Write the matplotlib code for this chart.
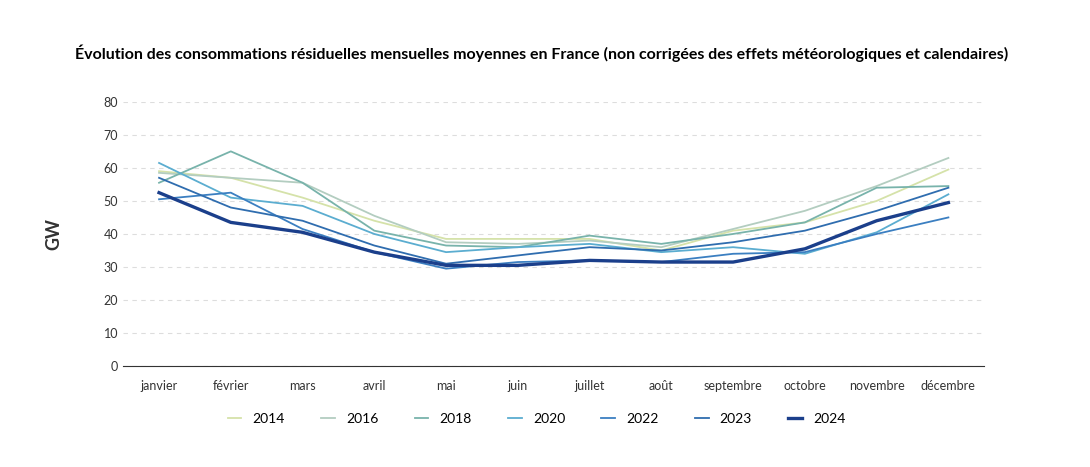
import matplotlib
matplotlib.use("Agg")
import matplotlib.pyplot as plt

plt.rcParams["font.family"] = ["Lato", "DejaVu Sans"]

MONTHS = ["janvier", "février", "mars", "avril", "mai", "juin", "juillet",
          "août", "septembre", "octobre", "novembre", "décembre"]

Y2014 = [59, 57, 51, 44, 38.5, 38.5, 38.5, 35, 41, 43.5, 50, 59.5]
Y2016 = [58.5, 57, 55.5, 45.5, 37.5, 37, 38, 36, 41.5, 47, 54.5, 63]
Y2018 = [55.5, 65, 55.5, 41, 36.5, 36, 39.5, 37, 40, 43.5, 54, 54.5]
Y2020 = [61.5, 51, 48.5, 40, 34.5, 36, 37, 34.5, 36, 34, 40.5, 52]
Y2022 = [50.5, 52.5, 41.5, 34.5, 29.5, 31.5, 32, 31.5, 34, 34.5, 40, 45]
Y2023 = [57, 48, 44, 36.5, 31, 33.5, 36, 35, 37.5, 41, 47, 54]
Y2024 = [52.5, 43.5, 40.5, 34.5, 30.5, 30.5, 32, 31.5, 31.5, 35.5, 44, 49.5]

series = [("2014", Y2014, "#d5e2a9", 1.3),
          ("2016", Y2016, "#b3cdc0", 1.3),
          ("2018", Y2018, "#78b3ab", 1.3),
          ("2020", Y2020, "#5badd0", 1.3),
          ("2022", Y2022, "#3b7fc1", 1.3),
          ("2023", Y2023, "#2f6daf", 1.3),
          ("2024", Y2024, "#1b3f8b", 2.4)]

fig = plt.figure(figsize=(10.9, 4.67), dpi=100)
ax = fig.add_axes([0.113, 0.216, 0.79, 0.566])
x = range(len(MONTHS))
for name, vals, col, lw in series:
    ax.plot(x, vals, color=col, lw=lw, label=name)

ax.set_ylim(0, 80)
ax.set_xlim(-0.5, 11.5)
ax.set_yticks(range(0, 81, 10))
ax.set_xticks(list(x))
ax.set_xticklabels(MONTHS)
ax.tick_params(axis="both", labelsize=9, colors="#333333", length=0)
ax.tick_params(axis="x", pad=10)
ax.grid(axis="y", ls=(0, (4, 4)), color="#dddddd", lw=0.8)
ax.set_axisbelow(True)
for s in ["top", "right", "left"]:
    ax.spines[s].set_visible(False)
ax.spines["bottom"].set_color("#333333")
ax.set_ylabel("GW", fontsize=13, fontweight="bold", color="#333333", labelpad=30)

fig.suptitle("Évolution des consommations résiduelles mensuelles moyennes en France "
             "(non corrigées des effets météorologiques et calendaires)",
             fontsize=11.5, fontweight="bold", y=0.905, x=0.497)
ax.legend(loc="upper center", bbox_to_anchor=(0.48, -0.13), ncol=7, frameon=False,
          fontsize=10, handlelength=1.0, columnspacing=2.6)
fig.savefig("out.png", dpi=100)
